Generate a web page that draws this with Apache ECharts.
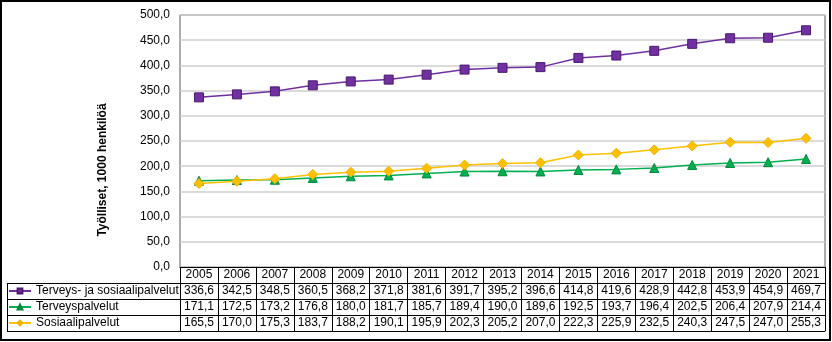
<!DOCTYPE html>
<html><head><meta charset="utf-8">
<script src="https://cdn.jsdelivr.net/npm/echarts@6/dist/echarts.min.js"></script>
<style>html,body{margin:0;padding:0;background:#fff}#c{width:832px;height:342px}</style>
</head><body><div id="c"></div>
<script>
const years = ['2005','2006','2007','2008','2009','2010','2011','2012','2013','2014','2015','2016','2017','2018','2019','2020','2021'];
const seriesNames = ['Terveys- ja sosiaalipalvelut','Terveyspalvelut','Sosiaalipalvelut'];
const totalValues = [336.6,342.5,348.5,360.5,368.2,371.8,381.6,391.7,395.2,396.6,414.8,419.6,428.9,442.8,453.9,454.9,469.7];
const healthValues = [171.1,172.5,173.2,176.8,180.0,181.7,185.7,189.4,190.0,189.6,192.5,193.7,196.4,202.5,206.4,207.9,214.4];
const socialValues = [165.5,170.0,175.3,183.7,188.2,190.1,195.9,202.3,205.2,207.0,222.3,225.9,232.5,240.3,247.5,247.0,255.3];
const yMin = 0, yMax = 500, yStep = 50;
const yTitle = 'Työlliset, 1000 henkilöä';

const FONT = '"Liberation Sans", Arial, sans-serif';
const fmt = v => Number(v).toFixed(1).replace('.', ',');
const ROW = 16;
const colors = ['#7030A0', '#00B050', '#FFC000'];
const borders = ['#4A1A70', '#00873C', '#F0B000'];

function tableAxis(values, k) {
  return {
    type: 'category', gridIndex: 0, position: 'bottom', offset: ROW * k,
    data: values ? values.map(fmt) : years,
    boundaryGap: true,
    axisLine: { show: true, lineStyle: { color: '#000', width: 1 } },
    axisTick: { show: false },
    axisLabel: { show: !!values, interval: 0, margin: 8, verticalAlign: 'middle', fontSize: 12, color: '#000', fontFamily: FONT },
    splitLine: { show: false }
  };
}

const chart = echarts.init(document.getElementById('c'), null, { renderer: 'canvas' });
const dataRows = [totalValues, healthValues, socialValues];
const xAxes = [{
  type: 'category', data: years, boundaryGap: true, position: 'bottom',
  axisLine: { show: true, lineStyle: { color: '#000', width: 1 } },
  axisTick: { show: true, length: ROW * 4, interval: 0, lineStyle: { color: '#000', width: 1 } },
  axisLabel: { interval: 0, margin: 8, verticalAlign: 'middle', fontSize: 12, color: '#000', fontFamily: FONT },
  splitLine: { show: false }
}];
dataRows.forEach((vals, i) => xAxes.push(tableAxis(vals, i + 1)));
xAxes.push(tableAxis(null, 4));

const leftLines = [];
for (let k = 1; k <= 4; k++) {
  leftLines.push({ type: 'line', shape: { x1: 7, y1: 267.5 + ROW * k, x2: 180, y2: 267.5 + ROW * k }, style: { stroke: '#000', lineWidth: 1 } });
}
leftLines.push({ type: 'line', shape: { x1: 7.5, y1: 267 + ROW, x2: 7.5, y2: 268 + ROW * 4 }, style: { stroke: '#000', lineWidth: 1 } });

const symbols = ['rect', 'triangle', 'diamond'];
const sizes = [9, 9, 10];
const series = seriesNames.map((name, i) => ({
  name, type: 'line', xAxisIndex: 0, yAxisIndex: 0,
  data: dataRows[i],
  symbol: symbols[i], symbolSize: sizes[i], showSymbol: true,
  lineStyle: { color: colors[i], width: 1.5 },
  itemStyle: { color: colors[i], borderColor: borders[i], borderWidth: 1 },
  z: 2 + i
}));

chart.setOption({
  animation: false,
  textStyle: { fontFamily: FONT },
  grid: { left: 180, right: 7, top: 15, bottom: 75, show: true, borderColor: '#595959', borderWidth: 1, containLabel: false, outerBoundsMode: 'none' },
  legend: {
    data: seriesNames, orient: 'vertical', left: 8, top: 283, padding: 0,
    itemWidth: 22, itemHeight: 6, itemGap: 0,
    textStyle: { fontSize: 12, lineHeight: 16, color: '#000', fontFamily: FONT }
  },
  xAxis: xAxes,
  yAxis: {
    type: 'value', min: yMin, max: yMax, interval: yStep,
    axisLine: { show: false }, axisTick: { show: false },
    axisLabel: { formatter: fmt, fontSize: 12, color: '#000', margin: 10, fontFamily: FONT },
    splitLine: { lineStyle: { color: '#cfcfcf', width: 1.5 } }
  },
  graphic: [
    { type: 'rect', shape: { x: 1, y: 1, width: 829, height: 339 }, style: { fill: 'none', stroke: '#000', lineWidth: 2 }, silent: true },
    { type: 'text', x: 103, y: 170, rotation: Math.PI / 2, style: { text: yTitle, fontSize: 12, fontWeight: 'bold', fill: '#000', align: 'center', verticalAlign: 'middle', fontFamily: FONT } },
    ...leftLines
  ],
  series
});
</script>
</body></html>
